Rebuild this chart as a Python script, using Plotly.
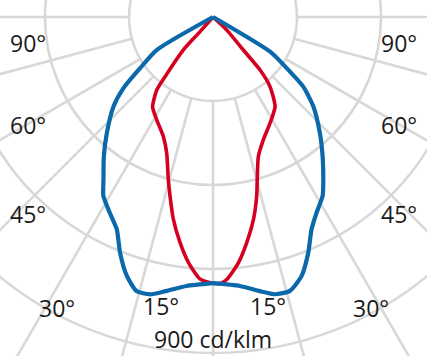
import numpy as np
import plotly.graph_objects as go

# ---- data (luminous intensity distribution, cd/klm; negative angle = left half) ----
blue_angles = [-90, -59.6, -54.9, -51.5, -48.0, -42.4, -38.0, -33.9, -31.5, -27.8,
               -24.4, -21.5, -18.4, -15.6, -12.8, -9.6, -5.6, 0,
               5.7, 9.7, 12.6, 15.7, 18.9, 22.0, 24.9, 27.9, 31.5, 34.1,
               38.1, 42.6, 48.2, 52.3, 55.2, 58.7, 90]
blue_values = [0, 175, 239, 307, 359, 422, 475, 526, 562, 593,
               624, 679, 731, 762, 762, 744, 724, 713,
               724, 745, 761, 762, 733, 681, 627, 593, 562, 527,
               476, 423, 361, 306, 241, 179, 0]

red_angles = [-90, -41.6, -42.0, -38.8, -37.6, -33.9, -28.7, -22.5, -18.8, -15.3,
              -13.5, -11.1, -8.3, -5.7, -2.8, 0,
              1.5, 3.0, 5.9, 8.5, 11.3, 13.7, 15.2, 18.0, 22.2, 28.2,
              34.7, 39.3, 41.6, 42.6, 46.5, 90]
red_values = [0, 54, 120, 205, 247, 290, 314, 347, 385, 453,
              493, 552, 611, 661, 703, 713,
              714, 704, 662, 611, 553, 494, 452, 393, 356, 323,
              292, 241, 190, 120, 51, 0]

ring_values = [225, 450, 675, 900, 1125]
spoke_angles = list(range(-180, 181, 15))
left_labels = ["90°", "60°", "45°", "30°", "15°"]
right_labels = ["90°", "60°", "45°", "30°", "15°"]
scale_label = "900 cd/klm"

# ---- layout constants ----
W, H = 427, 356
CX, CY = 213, 17          # pole position in pixels
UNIT = 225 / 84           # cd/klm per pixel
GRID = "#d8d8d8"


def to_xy(angles, values):
    a = np.radians(np.asarray(angles, dtype=float))
    v = np.asarray(values, dtype=float)
    return v * np.sin(a), -v * np.cos(a)


fig = go.Figure()

shapes = []
for R in ring_values:
    shapes.append(dict(type="circle", xref="x", yref="y", x0=-R, y0=-R, x1=R, y1=R,
                       line=dict(color=GRID, width=2.6), layer="below"))
r_in, r_out = ring_values[0], 2000
for a in spoke_angles:
    (x0, x1), (y0, y1) = to_xy([a, a], [r_in, r_out])
    shapes.append(dict(type="line", xref="x", yref="y", x0=x0, y0=y0, x1=x1, y1=y1,
                       line=dict(color=GRID, width=2.6), layer="below"))


def add_curve(angles, values, color, width):
    x, y = to_xy(angles, values)
    i0 = int(np.argmin(np.abs(np.asarray(angles, dtype=float))))
    # two halves so the apex at the pole stays pointed
    for sl in (slice(0, i0 + 1), slice(i0, len(angles))):
        fig.add_trace(go.Scatter(x=x[sl], y=y[sl], mode="lines",
                                 line=dict(color=color, width=width, shape="spline", smoothing=0.6),
                                 hoverinfo="skip"))


add_curve(red_angles, red_values, "#d5001f", 3.6)
add_curve(blue_angles, blue_values, "#0a68ab", 4.2)

font = dict(family="Open Sans, Noto Sans, sans-serif", size=23, color="#1a1a1a")
annotations = []
left_pos = [(27.5, 43), (27.5, 125), (27.5, 214), (56.5, 308), (160.5, 306)]
right_pos = [(399, 43), (399, 125), (399, 214), (371, 308), (267.5, 306)]
for txt, (px, py) in zip(left_labels + right_labels, left_pos + right_pos):
    annotations.append(dict(text=txt, x=px / W, y=1 - py / H, xref="paper", yref="paper",
                            showarrow=False, xanchor="center", yanchor="middle",
                            borderpad=0, font=font))
annotations.append(dict(text=scale_label, x=212.5 / W, y=1 - 339 / H, xref="paper", yref="paper",
                        showarrow=False, xanchor="center", yanchor="middle",
                        borderpad=0, font=font))

fig.update_layout(
    width=W, height=H, margin=dict(l=0, r=0, t=0, b=0),
    paper_bgcolor="white", plot_bgcolor="white", showlegend=False,
    shapes=shapes, annotations=annotations,
    xaxis=dict(range=[-CX * UNIT, (W - CX) * UNIT], visible=False, fixedrange=True),
    yaxis=dict(range=[-(H - CY) * UNIT, CY * UNIT], visible=False, fixedrange=True),
)

fig.write_html("out.html")
